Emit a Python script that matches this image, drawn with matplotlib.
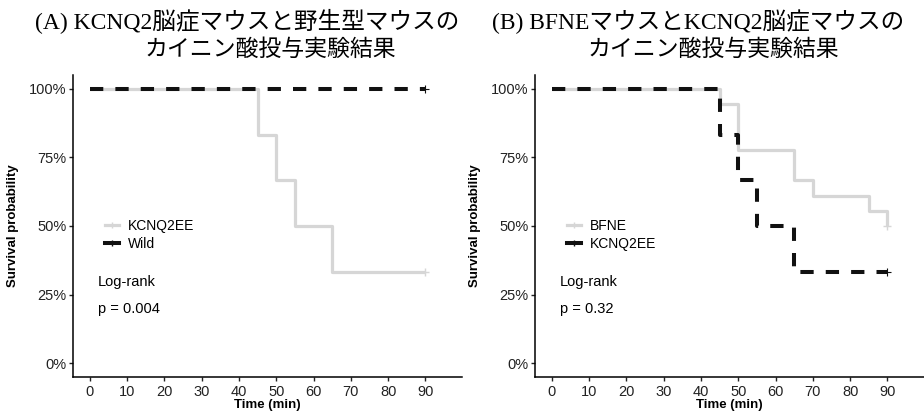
import matplotlib
matplotlib.use("Agg")
import matplotlib.pyplot as plt
from matplotlib.lines import Line2D

plt.rcParams['font.family'] = ['Liberation Sans', 'DejaVu Sans']

# Kaplan-Meier steps (time in min, survival fraction)
time_a_kcnq = [0, 45, 50, 55, 65, 90]
surv_a_kcnq = [1.0, 0.833, 0.667, 0.5, 0.333, 0.333]
time_a_wild = [0, 90]
surv_a_wild = [1.0, 1.0]

time_b_bfne = [0, 45, 50, 65, 70, 85, 90]
surv_b_bfne = [1.0, 0.944, 0.778, 0.667, 0.611, 0.556, 0.5]
time_b_kcnq = [0, 45, 50, 55, 65, 90]
surv_b_kcnq = [1.0, 0.833, 0.667, 0.5, 0.333, 0.333]

x_ticks = [0, 10, 20, 30, 40, 50, 60, 70, 80, 90]
y_ticks = [0, 0.25, 0.5, 0.75, 1.0]
y_labels = ['0%', '25%', '50%', '75%', '100%']

titles = [("(A) KCNQ2脳症マウスと野生型マウスの", "カイニン酸投与実験結果"),
          ("(B) BFNEマウスとKCNQ2脳症マウスの", "カイニン酸投与実験結果")]
legend_names = [("KCNQ2EE", "Wild"), ("BFNE", "KCNQ2EE")]
p_values = ["p = 0.004", "p = 0.32"]

GRAY = '#d6d6d6'
BLACK = '#111111'
title_font = ['Liberation Serif', 'Noto Sans CJK JP']

fig = plt.figure(figsize=(9.24, 4.12), dpi=100)
ax_a = fig.add_axes([0.0787, 0.085, 0.4213, 0.733])
ax_b = fig.add_axes([0.5787, 0.085, 0.4213, 0.733])

curves = [((time_a_kcnq, surv_a_kcnq), (time_a_wild, surv_a_wild)),
          ((time_b_bfne, surv_b_bfne), (time_b_kcnq, surv_b_kcnq))]

for i, ax in enumerate([ax_a, ax_b]):
    (t1, s1), (t2, s2) = curves[i]
    ax.step(t1, s1, where='post', color=GRAY, lw=2.3, solid_capstyle='butt')
    ax.plot(t1[-1], s1[-1], marker='+', color=GRAY, ms=6, mew=1)
    ax.step(t2, s2, where='post', color=BLACK, lw=2.9,
            linestyle=(0, (3.3, 3.0)), dash_capstyle='butt')
    ax.plot(t2[-1], s2[-1], marker='+', color=BLACK, ms=6, mew=0.8)

    ax.set_xlim(-4.6, 99.8)
    ax.set_ylim(-0.05, 1.05)
    ax.set_xticks(x_ticks)
    ax.set_yticks(y_ticks)
    ax.set_yticklabels(y_labels)
    ax.tick_params(length=3, width=1, labelsize=10.5, colors='#222222')
    ax.tick_params(axis='x', pad=2.5)
    ax.tick_params(axis='y', pad=1.5)
    for side in ['top', 'right']:
        ax.spines[side].set_visible(False)
    for side in ['left', 'bottom']:
        ax.spines[side].set_linewidth(1.1)
    ax.set_xlabel('Time (min)', fontsize=9.5, fontweight='bold', labelpad=0.5)
    ax.set_ylabel('Survival probability', fontsize=9.5, fontweight='bold', labelpad=7)

    handles = [Line2D([], [], color=GRAY, lw=2.3, marker='+', ms=5),
               Line2D([], [], color=BLACK, lw=2.9, marker='+', ms=5)]
    ax.legend(handles, legend_names[i], loc='upper left', bbox_to_anchor=(0.083, 0.523),
              frameon=False, fontsize=10, handlelength=1.0, handletextpad=0.65,
              labelspacing=0.3, borderpad=0, borderaxespad=0)

    ax.text(0.064, 0.316, 'Log-rank', transform=ax.transAxes, fontsize=10.5, va='center')
    ax.text(0.064, 0.225, p_values[i], transform=ax.transAxes, fontsize=10.5, va='center')

# two-line Japanese titles above each panel
fig.text(247 / 924, 1 - 22 / 412, titles[0][0], ha='center', va='center',
         fontsize=17, family=title_font)
fig.text(270 / 924, 1 - 50 / 412, titles[0][1], ha='center', va='center',
         fontsize=16.5, family=title_font)
fig.text(698 / 924, 1 - 22 / 412, titles[1][0], ha='center', va='center',
         fontsize=17, family=title_font)
fig.text(713 / 924, 1 - 50 / 412, titles[1][1], ha='center', va='center',
         fontsize=16.5, family=title_font)

fig.savefig('out.png', dpi=100)
